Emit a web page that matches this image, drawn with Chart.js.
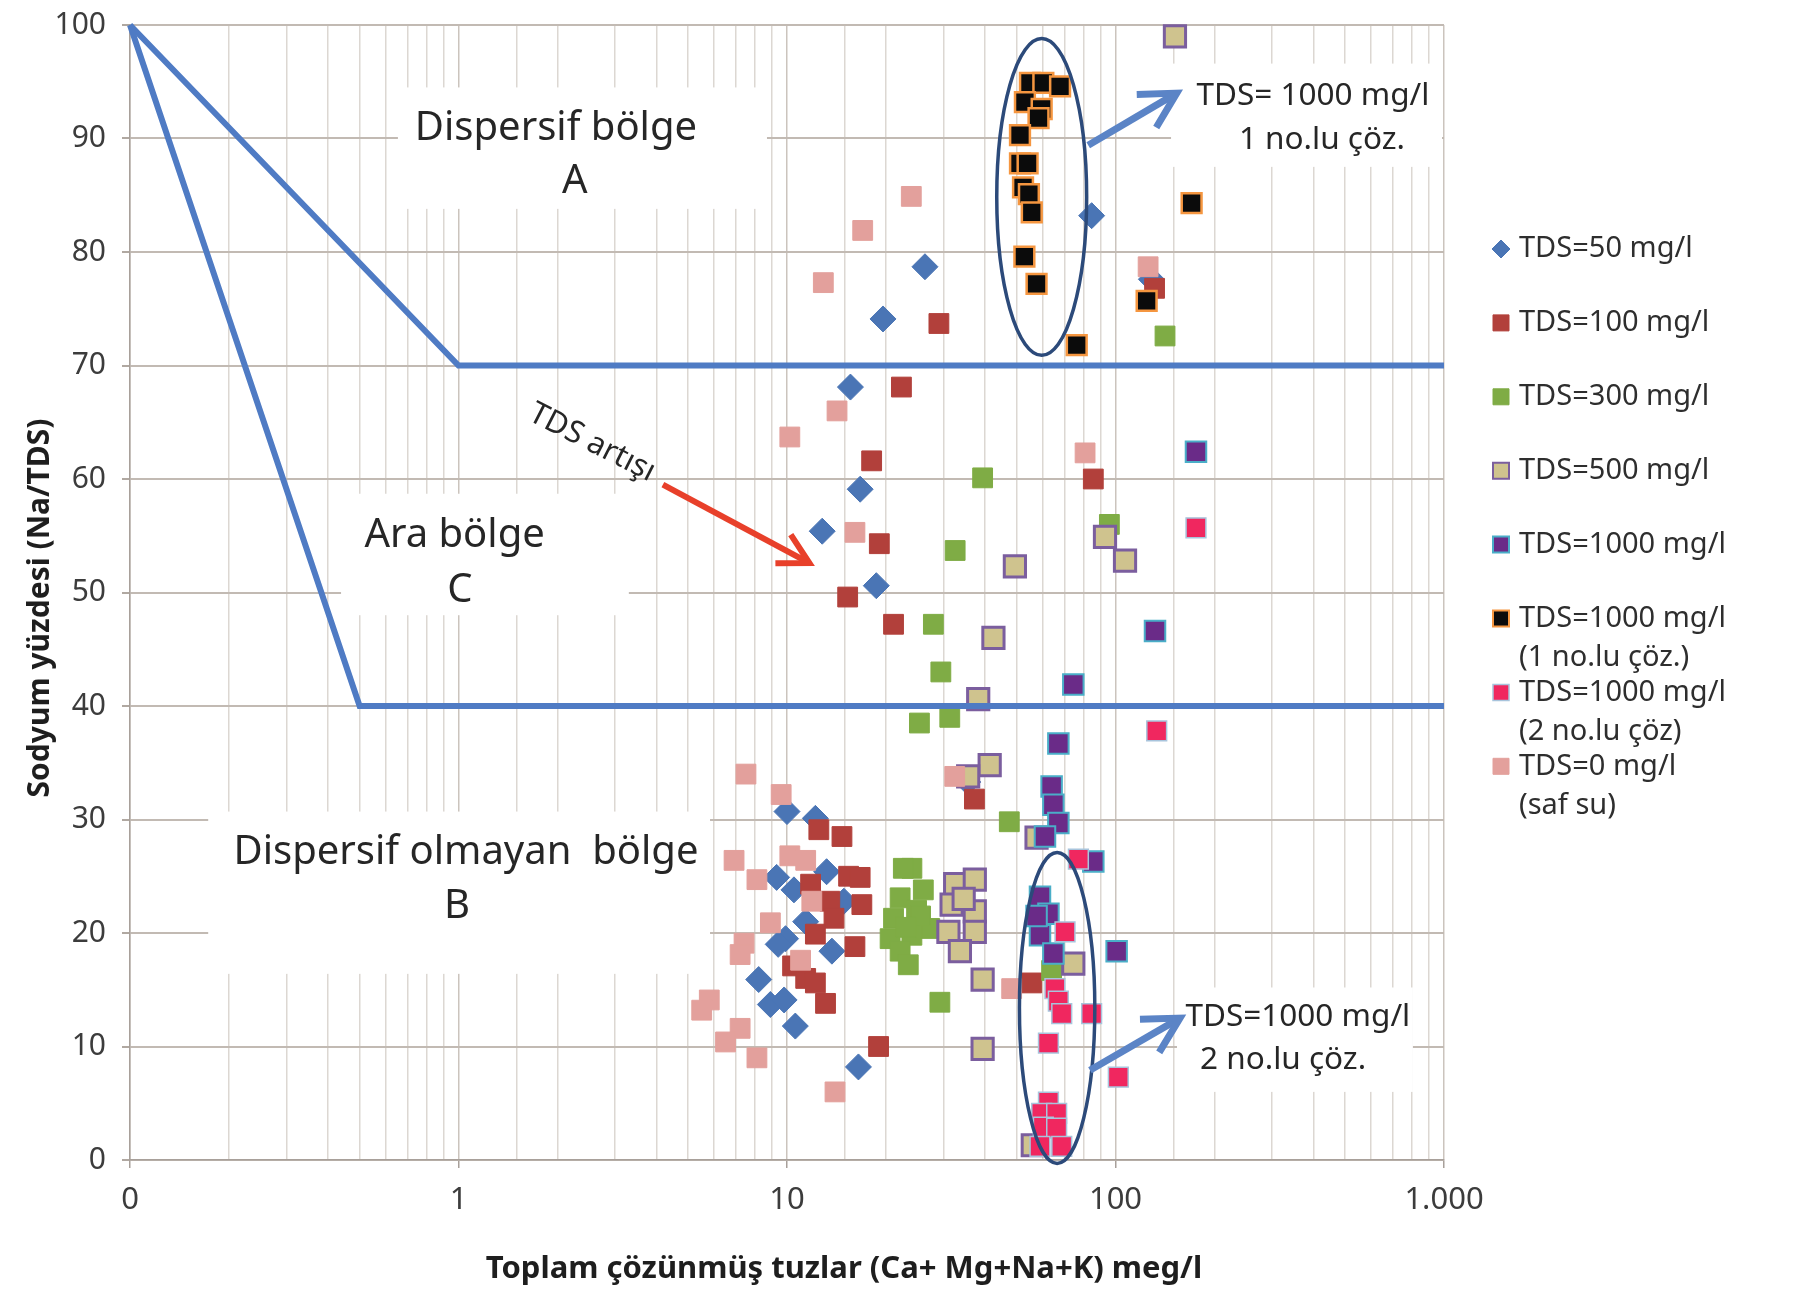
<!DOCTYPE html>
<html>
<head>
<meta charset="utf-8">
<script src="https://cdn.jsdelivr.net/npm/chart.js@4.4.1/dist/chart.umd.min.js"></script>
<style>
  html, body { margin: 0; padding: 0; background: #fff; }
</style>
</head>
<body>
<canvas id="chart" width="1809" height="1295"></canvas>
<script>
// x = total dissolved salts (meq/l, log scale), y = sodium percentage
const tds50 = [
  [19.6, 74.1], [26.3, 78.7], [84.6, 83.2], [15.6, 68.1], [16.7, 59.1], [12.8, 55.4], [18.7, 50.6], [128.6, 77.6],
  [10.0, 30.7], [12.2, 30.1], [9.3, 24.9], [10.5, 23.8], [13.2, 25.4], [14.9, 22.8], [11.4, 21.0], [9.9, 19.5],
  [9.4, 19.0], [13.7, 18.4], [8.2, 15.9], [8.9, 13.7], [9.8, 14.1], [10.6, 11.8], [16.5, 8.2], [35.5, 33.3],
];
const tds100 = [
  [29.0, 73.7], [22.3, 68.1], [18.1, 61.6], [19.1, 54.3], [15.3, 49.6], [21.1, 47.2], [85.6, 60.0], [131.5, 76.8],
  [37.2, 31.8], [55.6, 15.6], [12.5, 29.1], [14.7, 28.5], [15.4, 25.0], [16.7, 24.9], [11.8, 24.3], [16.9, 22.5],
  [13.5, 22.8], [13.9, 21.3], [12.2, 19.9], [16.1, 18.8], [10.4, 17.1], [11.4, 16.0], [12.2, 15.6], [13.1, 13.8],
  [19.0, 10.0],
];
const tds300 = [
  [39.4, 60.1], [32.5, 53.7], [27.9, 47.2], [29.4, 43.0], [25.3, 38.5], [31.3, 39.0], [95.8, 56.0], [141.5, 72.6],
  [47.5, 29.8], [24.0, 25.7], [22.6, 25.7], [26.0, 23.8], [22.1, 23.1], [24.8, 22.0], [21.1, 21.3], [27.2, 20.4],
  [20.6, 19.5], [24.0, 19.8], [22.1, 18.4], [23.4, 17.2], [29.2, 13.9], [63.9, 16.7], [25.5, 21.5], [23.0, 20.5],
];
const tds500 = [
  [151.7, 99.0], [49.4, 52.3], [92.9, 54.9], [106.9, 52.8], [42.5, 46.0], [38.2, 40.6], [41.4, 34.8], [35.6, 33.8],
  [32.5, 24.3], [37.3, 24.7], [31.7, 22.5], [37.3, 21.9], [31.0, 20.1], [37.3, 20.1], [33.6, 18.4], [39.4, 15.9],
  [39.4, 9.8], [57.5, 28.4], [74.4, 17.3], [56.0, 1.3], [34.5, 23.0],
];
const tds1000 = [
  [175.8, 62.4], [131.9, 46.6], [74.4, 41.9], [67.0, 36.7], [63.9, 32.9], [64.7, 31.3], [67.0, 29.7], [61.0, 28.5],
  [85.6, 26.3], [58.9, 23.2], [62.5, 21.7], [58.9, 19.8], [64.7, 18.2], [100.8, 18.4], [57.5, 21.5],
];
const tds1000Sol1 = [
  [54.9, 94.9], [60.3, 94.9], [67.8, 94.6], [53.0, 93.2], [59.6, 92.6], [58.3, 91.8], [51.2, 90.3], [51.2, 87.8],
  [54.0, 87.8], [52.3, 85.7], [54.5, 85.1], [55.6, 83.5], [52.8, 79.6], [57.5, 77.2], [76.2, 71.8], [170.5, 84.3],
  [124.4, 75.7],
];
const tds1000Sol2 = [
  [175.8, 55.7], [133.5, 37.8], [77.1, 26.5], [70.2, 20.1], [65.4, 15.1], [67.0, 14.0], [68.6, 12.9], [84.6, 12.9],
  [62.5, 10.3], [102.0, 7.3], [62.5, 5.1], [59.6, 4.1], [66.2, 4.1], [60.3, 2.9], [66.2, 2.8], [58.9, 1.2], [68.6, 1.2],
];
const tds0 = [
  [23.9, 84.9], [17.0, 81.9], [12.9, 77.3], [14.2, 66.0], [10.2, 63.7], [16.1, 55.3], [80.8, 62.3], [125.7, 78.7],
  [32.4, 33.8], [48.3, 15.1], [14.0, 6.0], [7.5, 34.0], [9.6, 32.2], [6.9, 26.4], [8.1, 24.7], [10.2, 26.8],
  [11.4, 26.4], [11.9, 22.8], [8.9, 20.9], [7.4, 19.1], [7.2, 18.1], [11.0, 17.6], [5.8, 14.1], [5.5, 13.2],
  [7.2, 11.6], [6.5, 10.4], [8.1, 9.0],
];

const seriesLabels = [
  ["TDS=50 mg/l"],
  ["TDS=100 mg/l"],
  ["TDS=300 mg/l"],
  ["TDS=500 mg/l"],
  ["TDS=1000 mg/l"],
  ["TDS=1000 mg/l", "(1 no.lu çöz.)"],
  ["TDS=1000 mg/l", "(2 no.lu çöz)"],
  ["TDS=0 mg/l", "(saf su)"],
];
const seriesData = [tds50, tds100, tds300, tds500, tds1000, tds1000Sol1, tds1000Sol2, tds0];

// zone boundaries (dispersive / intermediate / non-dispersive)
const dispersiveLimit = [[0.1, 100], [1, 70], [1000, 70]];
const nonDispersiveLimit = [[0.1, 100], [0.5, 40], [1000, 40]];

const yTicks = [0, 10, 20, 30, 40, 50, 60, 70, 80, 90, 100];
const xMajorTicks = [0.1, 1, 10, 100, 1000];
const xMajorLabels = ["0", "1", "10", "100", "1.000"];

const FONT = "'Noto Sans', 'Open Sans', sans-serif";

const seriesStyles = [
  { fill: "#4a75b5", border: "#4a75b5", shape: "rectRot", r: 13, bw: 1 },
  { fill: "#b2403b", border: "#b2403b", shape: "rect", r: 14, bw: 1 },
  { fill: "#7fac45", border: "#7fac45", shape: "rect", r: 14, bw: 1 },
  { fill: "#cfc38e", border: "#7b5e9e", shape: "rect", r: 15, bw: 3 },
  { fill: "#6a2b88", border: "#4aaec8", shape: "rect", r: 14.5, bw: 2 },
  { fill: "#0b0b0b", border: "#f59640", shape: "rect", r: 14, bw: 2.5 },
  { fill: "#f0275f", border: "#a8c4dc", shape: "rect", r: 14, bw: 1.5 },
  { fill: "#e3a09c", border: "#e3a09c", shape: "rect", r: 14, bw: 1 },
];

// text boxes on the plot (data coordinates)
const zoneLabels = [
  { size: 40, box: [0.654, 8.69, 83.8, 94.5], lines: [["Dispersif bölge", 1.98, 90.9], ["A", 2.26, 86.2]] },
  { size: 40, box: [0.439, 3.3, 48.0, 58.7], lines: [["Ara bölge", 0.973, 55.0], ["C", 1.01, 50.2]] },
  { size: 40, box: [0.173, 5.83, 16.4, 30.7], lines: [["Dispersif olmayan  bölge", 1.054, 27.1], ["B", 0.989, 22.3]] },
  { size: 31.5, box: [147.6, 986, 87.5, 96.6], lines: [["TDS= 1000 mg/l", 399, 93.75], ["1 no.lu çöz.", 425, 89.9]] },
  { size: 31.5, box: [153.9, 804, 6.0, 15.2], lines: [["TDS=1000 mg/l", 359, 12.6], ["2 no.lu çöz.", 323.6, 8.8]] },
];

const ellipses = [
  { x0: 43.5, x1: 81.7, y0: 70.9, y1: 98.8 },
  { x0: 51.0, x1: 86.5, y0: -0.3, y1: 27.1 },
];

const arrows = [
  { from: [82.6, 89.4], to: [153.6, 94.0], color: "#5b84c6", width: 7, head: 40 },
  { from: [83.6, 7.9], to: [157.1, 12.5], color: "#5b84c6", width: 7, head: 40 },
  { from: [4.19, 59.5], to: [11.7, 52.6], color: "#e8402a", width: 6, head: 34 },
];

function toPoints(arr) {
  return arr.map(([x, y]) => ({ x, y }));
}

function isDecade(v) {
  const l = Math.log10(v);
  return Math.abs(l - Math.round(l)) < 1e-6;
}

const datasets = seriesData.map((data, i) => ({
  label: seriesLabels[i].join(" "),
  data: toPoints(data),
  pointStyle: seriesStyles[i].shape,
  pointRadius: seriesStyles[i].r,
  pointBackgroundColor: seriesStyles[i].fill,
  pointBorderColor: seriesStyles[i].border,
  pointBorderWidth: seriesStyles[i].bw,
  showLine: false,
  order: 2 + seriesData.length - i,
  clip: false,
}));

[dispersiveLimit, nonDispersiveLimit].forEach((line, i) => {
  datasets.push({
    label: "limit" + i,
    data: toPoints(line),
    showLine: true,
    borderColor: "#4f7bc4",
    borderWidth: 6,
    pointRadius: 0,
    tension: 0,
    fill: false,
    order: i,
    clip: false,
  });
});

const overlay = {
  id: "overlay",
  beforeDatasetsDraw(chart) {
    const { ctx, scales: { x, y } } = chart;
    ctx.save();
    zoneLabels.forEach((z) => {
      const [bx0, bx1, by0, by1] = z.box;
      const left = x.getPixelForValue(bx0);
      const right = x.getPixelForValue(bx1);
      const top = y.getPixelForValue(by1);
      const bottom = y.getPixelForValue(by0);
      ctx.fillStyle = "#ffffff";
      ctx.fillRect(left, top, right - left, bottom - top);
      ctx.fillStyle = "#262626";
      ctx.font = z.size + "px " + FONT;
      ctx.textAlign = "center";
      ctx.textBaseline = "middle";
      z.lines.forEach(([t, tx, ty]) => {
        ctx.fillText(t, x.getPixelForValue(tx), y.getPixelForValue(ty));
      });
    });

    // "TDS artisi" slanted note
    ctx.translate(x.getPixelForValue(2.55), y.getPixelForValue(63.2));
    ctx.rotate((27 * Math.PI) / 180);
    ctx.font = "31px " + FONT;
    ctx.fillStyle = "#262626";
    ctx.textAlign = "center";
    ctx.textBaseline = "middle";
    ctx.fillText("TDS artışı", 0, 0);
    ctx.restore();
  },
  afterDatasetsDraw(chart) {
    const { ctx, scales: { x, y } } = chart;
    ctx.save();
    ellipses.forEach((e) => {
      const l = x.getPixelForValue(e.x0);
      const r = x.getPixelForValue(e.x1);
      const t = y.getPixelForValue(e.y1);
      const b = y.getPixelForValue(e.y0);
      ctx.beginPath();
      ctx.ellipse((l + r) / 2, (t + b) / 2, (r - l) / 2, (b - t) / 2, 0, 0, Math.PI * 2);
      ctx.strokeStyle = "#2c4a7a";
      ctx.lineWidth = 3.5;
      ctx.stroke();
    });

    arrows.forEach((a) => {
      const x1 = x.getPixelForValue(a.from[0]);
      const y1 = y.getPixelForValue(a.from[1]);
      const x2 = x.getPixelForValue(a.to[0]);
      const y2 = y.getPixelForValue(a.to[1]);
      const ang = Math.atan2(y2 - y1, x2 - x1);
      ctx.strokeStyle = a.color;
      ctx.lineWidth = a.width;
      ctx.lineJoin = "miter";
      ctx.lineCap = "butt";
      ctx.beginPath();
      ctx.moveTo(x1, y1);
      ctx.lineTo(x2 - Math.cos(ang) * 3, y2 - Math.sin(ang) * 3);
      ctx.stroke();
      ctx.beginPath();
      ctx.moveTo(x2 - a.head * Math.cos(ang - 0.5), y2 - a.head * Math.sin(ang - 0.5));
      ctx.lineTo(x2, y2);
      ctx.lineTo(x2 - a.head * Math.cos(ang + 0.5), y2 - a.head * Math.sin(ang + 0.5));
      ctx.stroke();
    });
    ctx.restore();
  },
  afterDraw(chart) {
    const { ctx, chartArea } = chart;
    ctx.save();

    // axis titles
    ctx.fillStyle = "#1e1e1e";
    ctx.textAlign = "center";
    ctx.textBaseline = "middle";
    ctx.font = "bold 31px " + FONT;
    ctx.fillText("Toplam çözünmüş tuzlar (Ca+ Mg+Na+K) meg/l", 844, 1269);
    ctx.save();
    ctx.font = "bold 30px " + FONT;
    ctx.translate(40, 608);
    ctx.rotate(-Math.PI / 2);
    ctx.fillText("Sodyum yüzdesi (Na/TDS)", 0, 0);
    ctx.restore();

    // legend
    const mx = chartArea.right + 57;
    const tx = mx + 18;
    ctx.font = "29px " + FONT;
    ctx.textAlign = "left";
    seriesLabels.forEach((lines, i) => {
      const cy = 249 + i * 73.9;
      const s = seriesStyles[i];
      ctx.beginPath();
      if (s.shape === "rectRot") {
        ctx.moveTo(mx - 9, cy);
        ctx.lineTo(mx, cy - 9);
        ctx.lineTo(mx + 9, cy);
        ctx.lineTo(mx, cy + 9);
        ctx.closePath();
      } else {
        ctx.rect(mx - 8, cy - 8, 16, 16);
      }
      ctx.fillStyle = s.fill;
      ctx.fill();
      ctx.lineWidth = Math.min(s.bw, 2);
      ctx.strokeStyle = s.border;
      ctx.stroke();
      ctx.fillStyle = "#2e2e2e";
      lines.forEach((t, k) => ctx.fillText(t, tx, cy + k * 39));
    });
    ctx.restore();
  },
};

new Chart(document.getElementById("chart"), {
  type: "scatter",
  data: { datasets },
  options: {
    responsive: false,
    animation: false,
    events: [],
    layout: { padding: { left: 0, top: 25, right: 365, bottom: 0 } },
    plugins: {
      legend: { display: false },
      tooltip: { enabled: false },
    },
    scales: {
      x: {
        type: "logarithmic",
        min: 0.1,
        max: 1000,
        afterFit: (s) => {
          s.height = 135;
          s.paddingLeft = 0;
          s.paddingRight = 0;
        },
        grid: {
          color: (c) => (c.tick && isDecade(c.tick.value) ? "#cbc4bd" : "#dcd7d2"),
          lineWidth: 1.5,
          tickLength: 8,
          tickColor: (c) => (c.tick && isDecade(c.tick.value) ? "#a8a09a" : "rgba(0,0,0,0)"),
        },
        border: { color: "#a8a09a", width: 1.5 },
        ticks: {
          autoSkip: false,
          maxRotation: 0,
          padding: 14,
          color: "#3c3c3c",
          font: { family: FONT, size: 31 },
          callback: (v) => {
            const i = xMajorTicks.findIndex((t) => Math.abs(t - v) < 1e-9 * Math.max(1, t));
            return i >= 0 ? xMajorLabels[i] : "";
          },
        },
      },
      y: {
        min: yTicks[0],
        max: yTicks[yTicks.length - 1],
        afterFit: (s) => {
          s.width = 130;
          s.paddingTop = 0;
          s.paddingBottom = 0;
        },
        afterBuildTicks: (s) => { s.ticks = yTicks.map((v) => ({ value: v })); },
        grid: { color: "#c2bab3", lineWidth: 2, tickLength: 8, tickColor: "#b0a8a1" },
        border: { color: "#a8a09a", width: 1.5 },
        ticks: {
          padding: 16,
          color: "#3c3c3c",
          font: { family: FONT, size: 30 },
        },
      },
    },
  },
  plugins: [overlay],
});
</script>
</body>
</html>
